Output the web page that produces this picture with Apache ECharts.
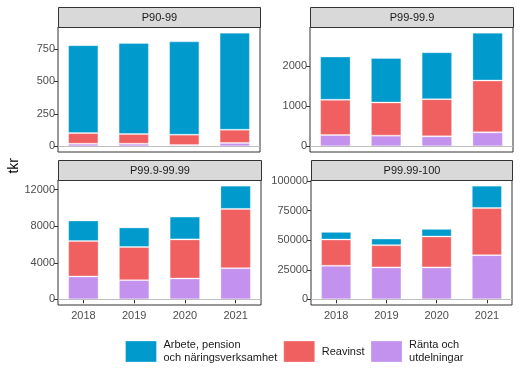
<!DOCTYPE html>
<html>
<head>
<meta charset="utf-8">
<script src="https://cdn.jsdelivr.net/npm/echarts@6/dist/echarts.min.js"></script>
<style>
  html, body { margin: 0; padding: 0; background: #fff; }
  #chart { width: 520px; height: 377px; }
</style>
</head>
<body>
<div id="chart"></div>
<script>
// data
const years = ['2018', '2019', '2020', '2021'];
const panels = ['P90-99', 'P99-99.9', 'P99.9-99.99', 'P99.99-100'];
const seriesNames = ['Arbete, pension\noch näringsverksamhet', 'Reavinst', 'Ränta och\nutdelningar'];

// per panel values (tkr)
const ranta = [
  [20, 20, 10, 26],
  [282, 266, 249, 349],
  [2500, 2100, 2280, 3410],
  [28400, 27000, 27000, 37400]
];
const reavinst = [
  [82, 75, 80, 102],
  [880, 829, 929, 1294],
  [3880, 3630, 4280, 6490],
  [22230, 18850, 26160, 39950]
];
const arbete = [
  [678, 701, 719, 748],
  [1079, 1112, 1171, 1195],
  [2250, 2140, 2500, 2540],
  [6470, 5630, 6470, 18850]
];
const yTicks = [
  [0, 250, 500, 750],
  [0, 1000, 2000],
  [0, 4000, 8000, 12000],
  [0, 25000, 50000, 75000, 100000]
];

const colors = { arbete: '#009ACD', reavinst: '#F16061', ranta: '#C392EE' };

const chart = echarts.init(document.getElementById('chart'));

const boxes = [
  { left: 58, top: 27, width: 202, height: 125 },
  { left: 310, top: 27, width: 203, height: 125 },
  { left: 58, top: 180, width: 203, height: 125 },
  { left: 311, top: 180, width: 201, height: 125 }
];

const grid = [], xAxis = [], yAxis = [], series = [], graphic = [];

boxes.forEach((b, i) => {
  const totals = years.map((y, j) => ranta[i][j] + reavinst[i][j] + arbete[i][j]);
  const top = Math.max(...totals);
  const bottomRow = i >= 2;

  grid.push({
    left: b.left, top: b.top, width: b.width, height: b.height,
    show: true, borderColor: '#333333', borderWidth: 1, backgroundColor: '#fff'
  });
  xAxis.push({
    type: 'category', gridIndex: i, data: years,
    axisLine: { show: false },
    axisTick: { show: bottomRow, alignWithLabel: true, length: 4, lineStyle: { color: '#333333' } },
    axisLabel: { show: bottomRow, color: '#4D4D4D', fontSize: 11, margin: 5, fontFamily: 'Liberation Sans' }
  });
  yAxis.push({
    type: 'value', gridIndex: i,
    min: -0.05 * top, max: 1.05 * top,
    splitLine: { show: false },
    axisLine: { show: false },
    axisTick: { show: true, length: 4, customValues: yTicks[i], lineStyle: { color: '#333333' } },
    axisLabel: {
      color: '#4D4D4D', fontSize: 11, margin: 3, customValues: yTicks[i],
      fontFamily: 'Liberation Sans', formatter: v => String(v)
    }
  });

  const parts = [
    { name: seriesNames[2], data: ranta[i], color: colors.ranta },
    { name: seriesNames[1], data: reavinst[i], color: colors.reavinst },
    { name: seriesNames[0], data: arbete[i], color: colors.arbete }
  ];
  parts.forEach((p, k) => {
    const s = {
      name: p.name, type: 'bar', stack: 'p' + i,
      xAxisIndex: i, yAxisIndex: i,
      data: p.data, barCategoryGap: '40%',
      itemStyle: { color: p.color, borderColor: 'rgba(255,255,255,0.3)', borderWidth: 1 },
      silent: true, animation: false
    };
    if (k === 0) {
      s.markLine = {
        silent: true, symbol: 'none', label: { show: false },
        lineStyle: { color: '#BEBEBE', width: 1.2, type: 'solid' },
        data: [{ yAxis: 0 }], animation: false
      };
    }
    series.push(s);
  });

  // facet strip
  graphic.push({
    type: 'group', left: b.left, top: b.top - 20,
    children: [
      { type: 'rect', shape: { x: 0, y: 0, width: b.width, height: 20 },
        style: { fill: '#D9D9D9', stroke: '#333333', lineWidth: 1 } },
      { type: 'text', x: b.width / 2, y: 10,
        style: { text: panels[i], fill: '#1A1A1A', fontSize: 11, fontFamily: 'Liberation Sans',
                 align: 'center', verticalAlign: 'middle' } }
    ]
  });
});

graphic.push({
  type: 'text', left: 7, top: 158, rotation: Math.PI / 2,
  style: { text: 'tkr', fill: '#000', fontSize: 14, fontFamily: 'Liberation Sans' }
});

chart.setOption({
  animation: false,
  color: [colors.ranta, colors.reavinst, colors.arbete],
  grid, xAxis, yAxis, series, graphic,
  legend: {
    left: 125, top: 339, padding: 0,
    data: seriesNames,
    icon: 'rect', itemWidth: 31, itemHeight: 21, itemGap: 6,
    selectedMode: false,
    itemStyle: { borderColor: 'rgba(255,255,255,0.3)', borderWidth: 1 },
    textStyle: { color: '#1A1A1A', fontSize: 11, lineHeight: 12.5, fontFamily: 'Liberation Sans', padding: [0, 0, 0, 2] }
  }
});
</script>
</body>
</html>
